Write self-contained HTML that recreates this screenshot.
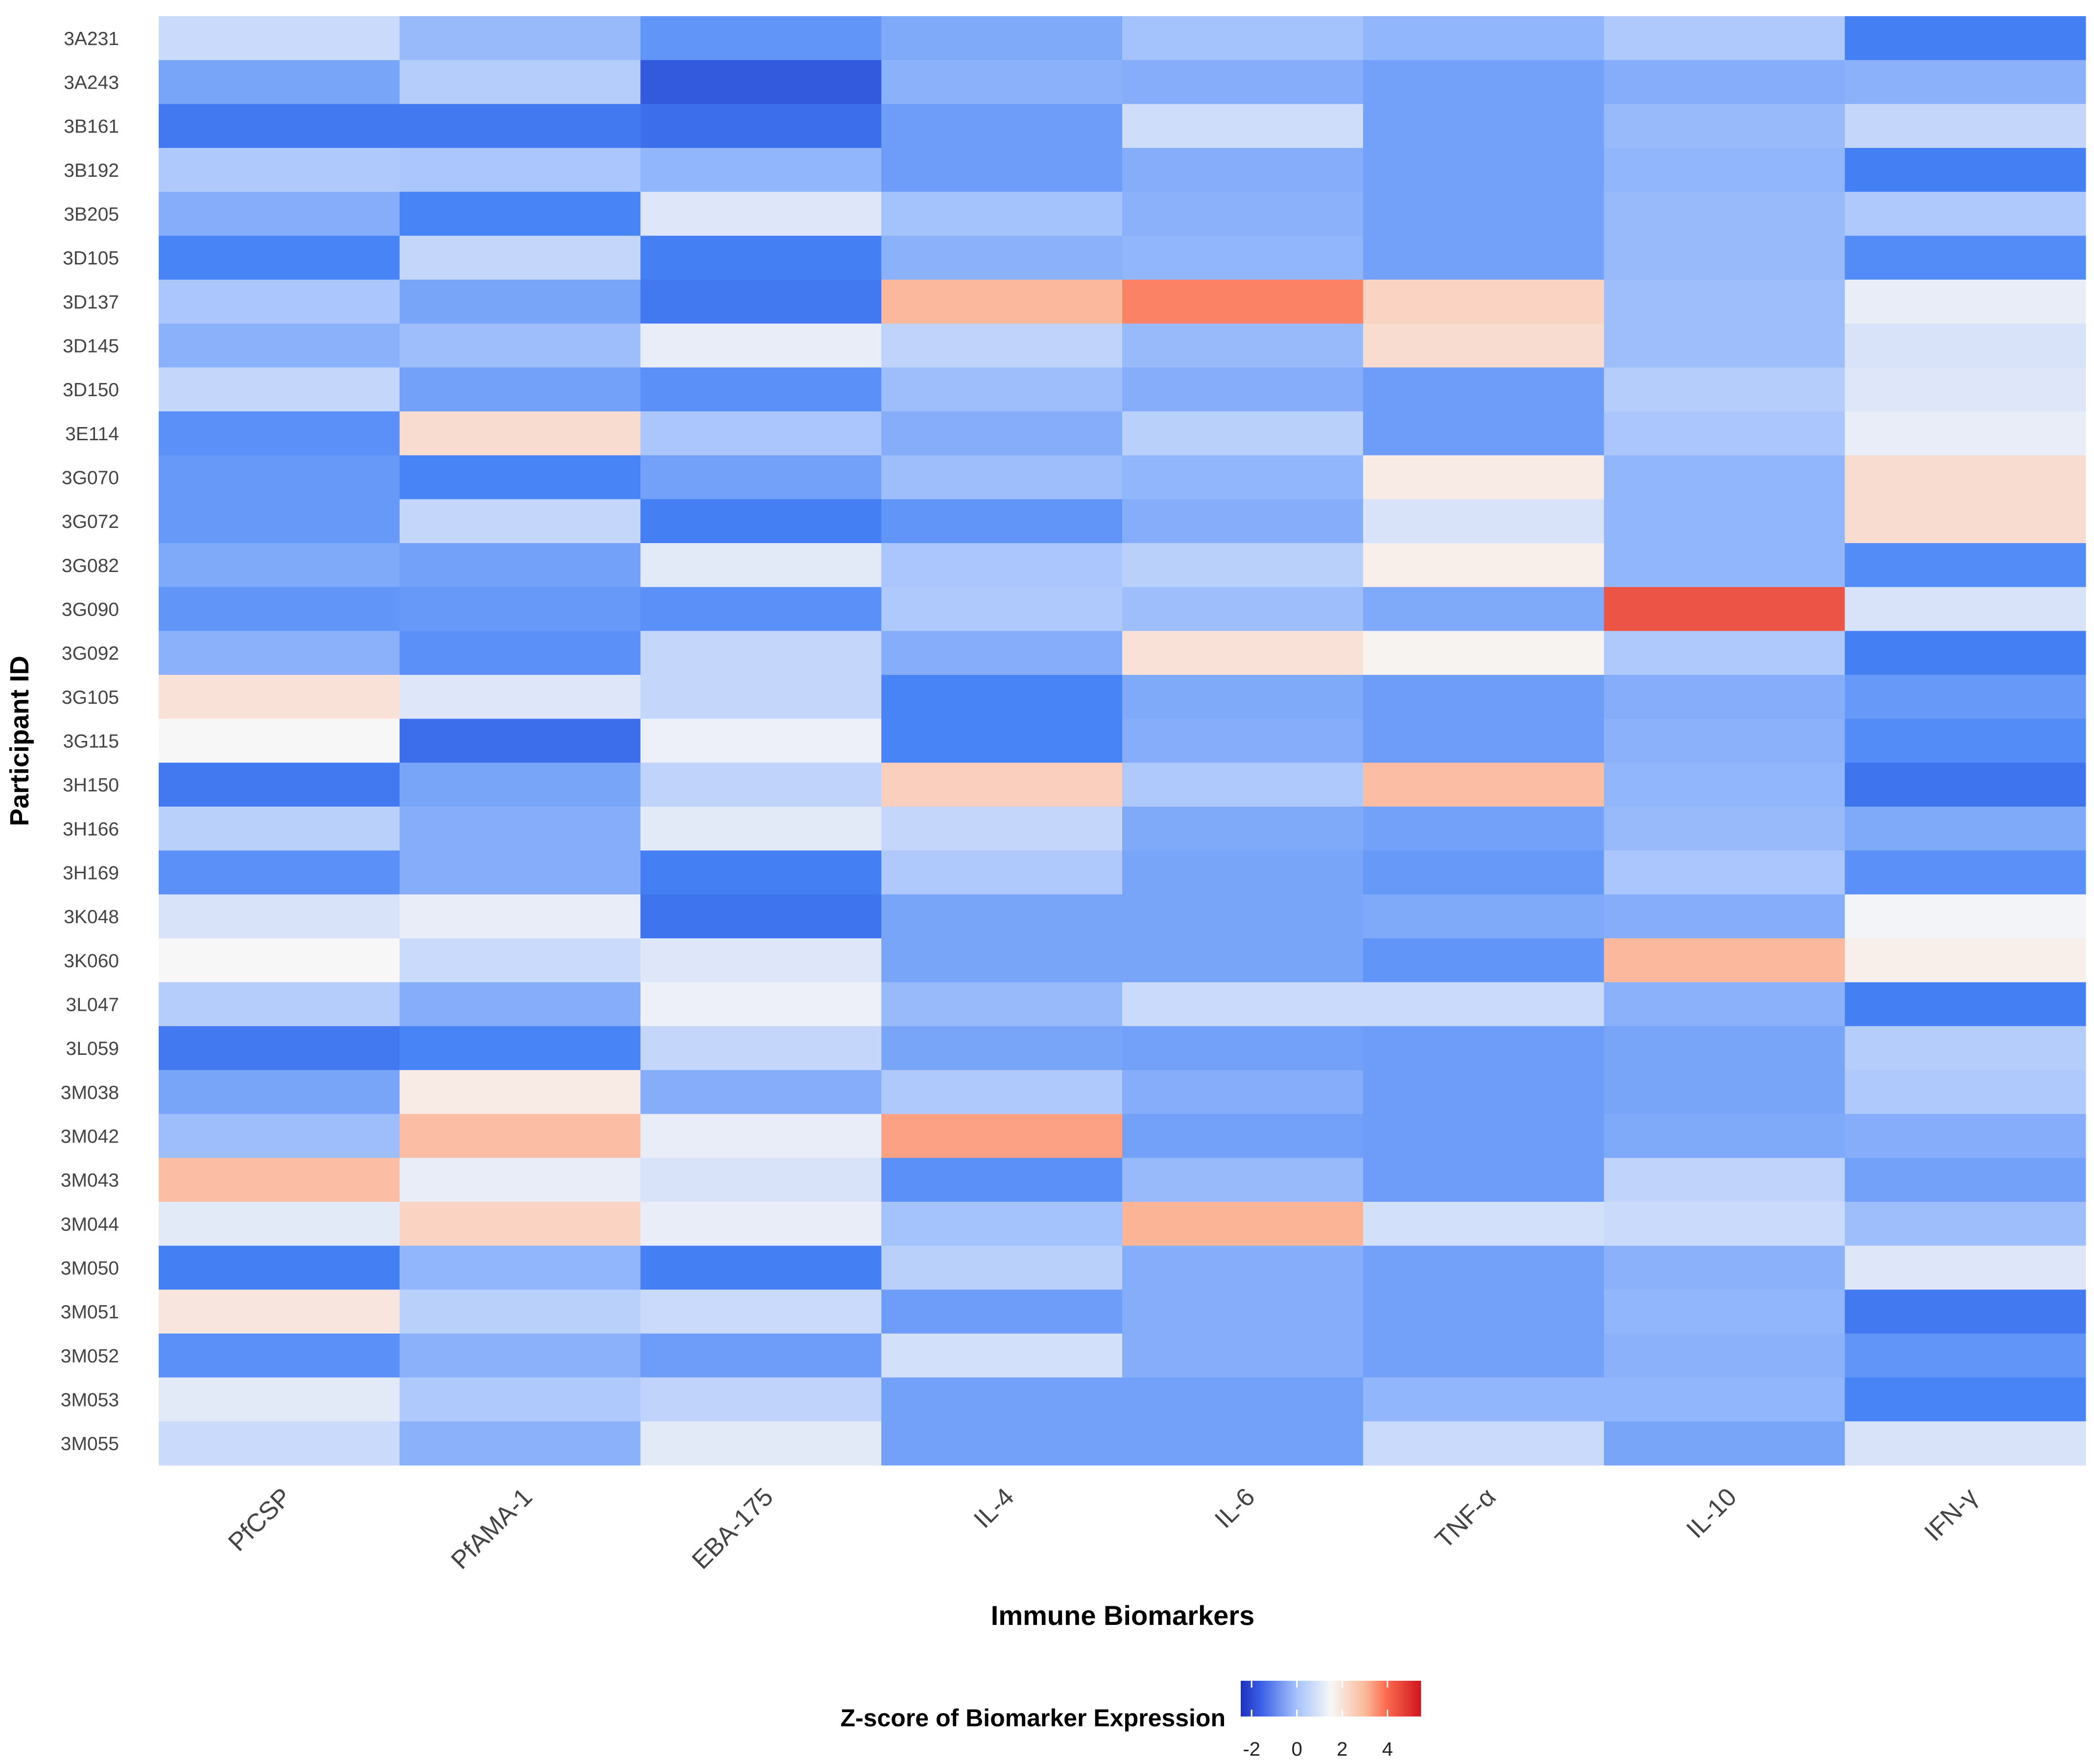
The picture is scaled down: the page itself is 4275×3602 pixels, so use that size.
<!DOCTYPE html>
<html><head><meta charset="utf-8"><style>
html,body{margin:0;padding:0;background:#fff;}
svg{display:block;font-family:"Liberation Sans",sans-serif;}
</style></head><body>
<svg id="chart" width="4275" height="3602" viewBox="0 0 4275 3602" xmlns="http://www.w3.org/2000/svg">
<defs>
<linearGradient id="cbar" x1="0" x2="1" y1="0" y2="0">
<stop offset="0" stop-color="#1e30bf"/>
<stop offset="0.11" stop-color="#3a5ee6"/>
<stop offset="0.31" stop-color="#a6c2fc"/>
<stop offset="0.5" stop-color="#f7f7f7"/>
<stop offset="0.69" stop-color="#fbb99a"/>
<stop offset="0.81" stop-color="#fb6a50"/>
<stop offset="1" stop-color="#d0151f"/>
</linearGradient>
</defs>
<g id="cells"></g>
<g id="ylabels"></g>
<g id="xlabels"></g>
<text x="2292" y="3318" font-size="56" font-weight="bold" text-anchor="middle" fill="#000">Immune Biomarkers</text>
<text transform="translate(58,1513) rotate(-90)" font-size="54" font-weight="bold" text-anchor="middle" fill="#000">Participant ID</text>
<text x="2502" y="3525" font-size="50" font-weight="bold" text-anchor="end" fill="#000">Z-score of Biomarker Expression</text>
<rect x="2533" y="3432" width="368" height="73" fill="url(#cbar)"/>
<g id="legend-ticks"></g>
</svg>
<script>
const rows = ["3A231","3A243","3B161","3B192","3B205","3D105","3D137","3D145","3D150","3E114","3G070","3G072","3G082","3G090","3G092","3G105","3G115","3H150","3H166","3H169","3K048","3K060","3L047","3L059","3M038","3M042","3M043","3M044","3M050","3M051","3M052","3M053","3M055"];
const markers = ["PfCSP","PfAMA-1","EBA-175","IL-4","IL-6","TNF-α","IL-10","IFN-γ"];
const zscores = [
[0.6,-0.3,-1.2,-0.7,-0.1,-0.4,0.1,-1.7],
[-0.8,0.2,-2.3,-0.5,-0.6,-0.9,-0.6,-0.5],
[-1.8,-1.8,-2.0,-1.0,0.7,-0.9,-0.3,0.5],
[0.1,0.0,-0.4,-1.0,-0.6,-0.9,-0.4,-1.7],
[-0.6,-1.6,1.0,-0.1,-0.5,-0.9,-0.3,0.1],
[-1.6,0.5,-1.7,-0.5,-0.4,-0.9,-0.3,-1.4],
[0.0,-0.8,-1.8,2.9,3.8,2.3,-0.2,1.2],
[-0.5,-0.2,1.2,0.4,-0.3,2.1,-0.2,0.9],
[0.5,-0.9,-1.3,-0.2,-0.6,-1.0,0.2,1.0],
[-1.3,2.1,0.0,-0.6,0.3,-1.0,0.0,1.2],
[-1.1,-1.6,-0.9,-0.2,-0.4,1.8,-0.4,2.1],
[-1.1,0.5,-1.7,-1.2,-0.6,0.9,-0.4,2.1],
[-0.7,-0.9,1.1,0.0,0.3,1.7,-0.4,-1.4],
[-1.2,-1.1,-1.3,0.1,-0.2,-0.7,4.5,0.9],
[-0.5,-1.3,0.5,-0.6,2.0,1.6,0.1,-1.7],
[2.0,1.0,0.5,-1.6,-0.7,-1.0,-0.6,-1.1],
[1.5,-2.0,1.3,-1.6,-0.6,-1.0,-0.5,-1.4],
[-1.8,-0.8,0.4,2.4,0.1,2.8,-0.4,-1.9],
[0.3,-0.6,1.1,0.5,-0.7,-0.9,-0.3,-0.7],
[-1.3,-0.6,-1.7,0.1,-0.8,-1.1,0.0,-1.3],
[0.9,1.2,-1.9,-0.8,-0.8,-0.7,-0.6,1.4],
[1.5,0.6,1.0,-0.8,-0.8,-1.2,2.9,1.7],
[0.2,-0.6,1.3,-0.3,0.6,0.6,-0.5,-1.7],
[-1.8,-1.6,0.5,-0.8,-0.9,-1.0,-0.8,0.2],
[-0.8,1.8,-0.6,0.1,-0.6,-1.0,-0.8,0.1],
[-0.2,2.8,1.2,3.3,-0.9,-1.0,-0.7,-0.6],
[2.8,1.2,0.9,-1.3,-0.3,-1.0,0.4,-0.9],
[1.1,2.3,1.2,-0.1,3.0,0.8,0.6,-0.2],
[-1.7,-0.4,-1.7,0.3,-0.6,-0.9,-0.5,1.0],
[1.9,0.3,0.6,-1.0,-0.6,-0.9,-0.4,-1.8],
[-1.3,-0.5,-1.0,0.8,-0.6,-0.9,-0.5,-1.2],
[1.1,0.1,0.4,-0.9,-0.9,-0.4,-0.4,-1.6],
[0.6,-0.5,1.1,-0.9,-0.9,0.6,-0.8,0.9]
];
const legendTicks = [-2,0,2,4];

const NS = "http://www.w3.org/2000/svg";
const plotL = 324, plotR = 4258, plotT = 33, plotB = 2992;
const colW = (plotR - plotL) / markers.length;
const rowH = (plotB - plotT) / rows.length;
const xPos = i => plotL + i * colW;
const yPos = j => plotT + j * rowH;
const vMin = -2.48, vMax = 5.48;
const legL = 2533, legR = 2901;
const legX = v => legL + (v - vMin) / (vMax - vMin) * (legR - legL);

const stops = [[-2.48,[46,78,210]],[-2.0,[60,110,236]],[-1.6,[72,132,246]],[0,[170,198,252]],[1.5,[247,247,247]],[3,[252,180,150]],[4,[251,118,88]],[5.48,[208,21,31]]];
function color(v){
  if (v <= stops[0][0]) return "rgb("+stops[0][1].join(",")+")";
  for (let k=1;k<stops.length;k++){
    if (v <= stops[k][0]){
      const a=stops[k-1], b=stops[k], t=(v-a[0])/(b[0]-a[0]);
      const c=a[1].map((x,i)=>Math.round(x+(b[1][i]-x)*t));
      return "rgb("+c.join(",")+")";
    }
  }
  return "rgb("+stops[stops.length-1][1].join(",")+")";
}

const cells = document.getElementById("cells");
zscores.forEach((row,j)=>{
  row.forEach((v,i)=>{
    const r=document.createElementNS(NS,"rect");
    r.setAttribute("x",xPos(i)); r.setAttribute("y",yPos(j));
    r.setAttribute("width",colW+0.5); r.setAttribute("height",rowH+0.5);
    r.setAttribute("fill",color(v));
    
    
    cells.appendChild(r);
  });
});
const yl = document.getElementById("ylabels");
rows.forEach((name,j)=>{
  const t=document.createElementNS(NS,"text");
  t.setAttribute("x",243); t.setAttribute("y",yPos(j)+rowH/2+14);
  t.setAttribute("font-size","39"); t.setAttribute("text-anchor","end"); t.setAttribute("fill","#444");
  t.textContent=name;
  
  
  yl.appendChild(t);
});
const xl = document.getElementById("xlabels");
markers.forEach((name,i)=>{
  const t=document.createElementNS(NS,"text");
  const cx=xPos(i)+colW/2+28, cy=3060;
  t.setAttribute("transform","translate("+cx+","+cy+") rotate(-45)");
  t.setAttribute("font-size","52"); t.setAttribute("text-anchor","end"); t.setAttribute("fill","#444");
  t.textContent=name;
  
  
  xl.appendChild(t);
});
const lt = document.getElementById("legend-ticks");
legendTicks.forEach(v=>{
  const x=legX(v);
  [[3432,3446],[3491,3505]].forEach(p=>{
    const l=document.createElementNS(NS,"line");
    l.setAttribute("x1",x); l.setAttribute("x2",x); l.setAttribute("y1",p[0]); l.setAttribute("y2",p[1]);
    l.setAttribute("stroke","#fff"); l.setAttribute("stroke-width","3");
    
    
    lt.appendChild(l);
  });
  const t=document.createElementNS(NS,"text");
  t.setAttribute("x",x); t.setAttribute("y",3585);
  t.setAttribute("font-size","40"); t.setAttribute("text-anchor","middle"); t.setAttribute("fill","#222");
  t.textContent=String(v);
  
  
  lt.appendChild(t);
});
</script>
</body></html>
